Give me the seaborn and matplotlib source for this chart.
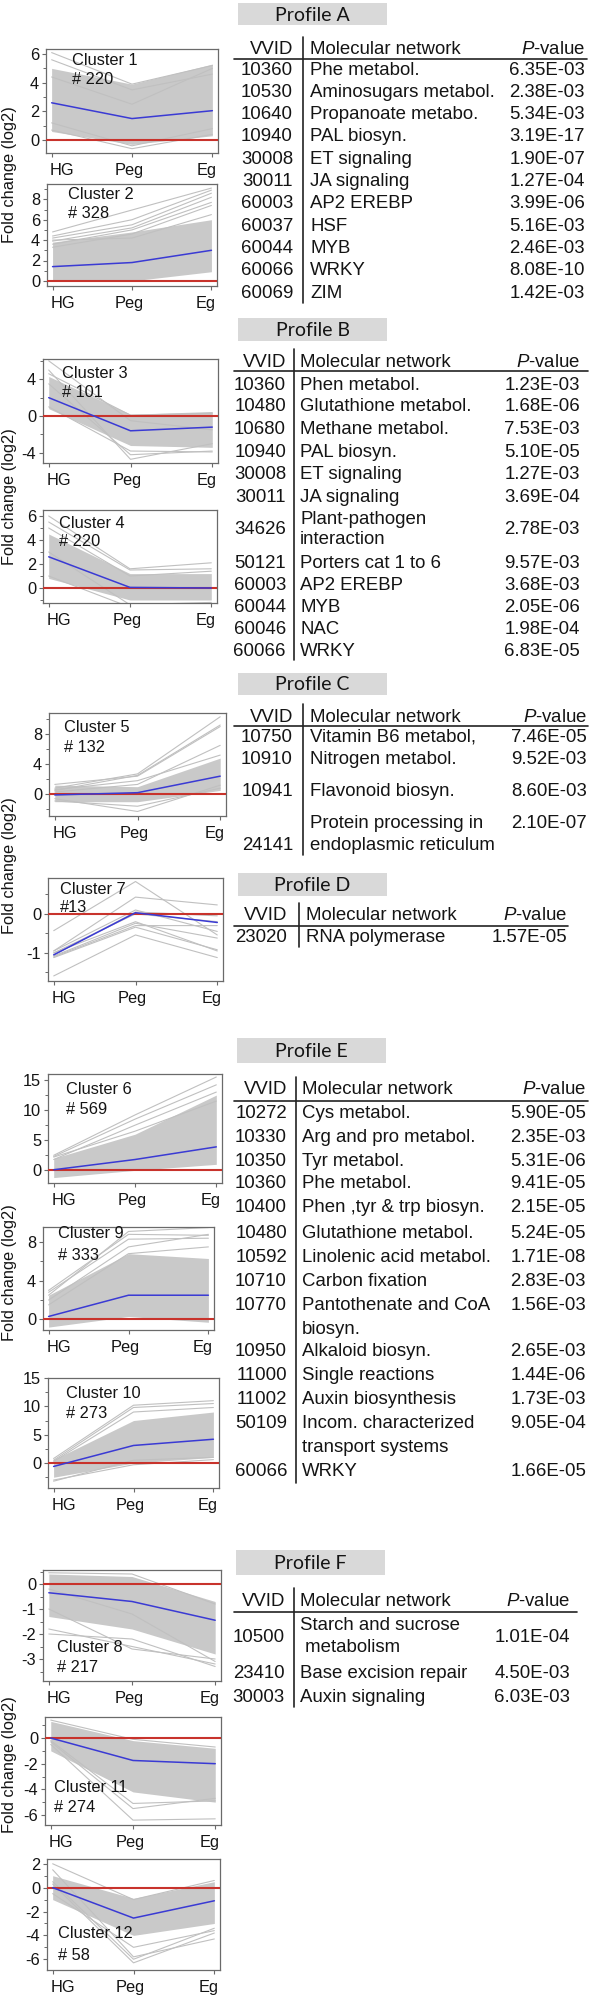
import numpy as np
import pandas as pd
import matplotlib
matplotlib.use("Agg")
import matplotlib.pyplot as plt
import seaborn as sns
from matplotlib.ticker import AutoMinorLocator
from matplotlib.transforms import ScaledTranslation
from matplotlib.patches import Rectangle

# ---------------------------------------------------------------- data
stages = ["HG", "Peg", "Eg"]

# cluster profiles: mean (blue), dense band low/high, individual visible gray lines
c1_mean = [2.6, 1.5, 2.05]
c1_low = [0.6, -0.3, 0.3]
c1_high = [5.0, 3.9, 5.3]
c1_lines = [[6.1, 3.9, 5.2], [5.6, 3.5, 4.6], [0.7, -0.6, 0.4], [1.2, -0.4, 0.8], [4.4, 2.5, 5.0]]

c2_mean = [1.4, 1.8, 3.0]
c2_low = [0.1, 0.0, 0.9]
c2_high = [3.8, 4.8, 6.0]
c2_lines = [[4.8, 6.95, 9.1], [4.4, 6.0, 8.9], [4.2, 5.5, 8.6], [3.9, 5.2, 8.2],
            [3.6, 5.0, 7.7], [3.3, 4.6, 7.4], [4.0, 4.2, 6.5]]

c3_mean = [2.0, -1.6, -1.2]
c3_low = [0.8, -3.2, -3.4]
c3_high = [4.3, 0.2, 0.5]
c3_lines = [[6.0, -0.5, -1.5], [5.0, -4.7, -3.0], [3.5, -4.2, -3.8], [1.0, -3.8, -3.9], [4.6, 0.1, 0.3]]

c4_mean = [2.6, 0.05, 0.0]
c4_low = [0.8, -1.0, -1.0]
c4_high = [4.5, 1.2, 1.2]
c4_lines = [[6.0, 1.6, 2.1], [5.5, 1.5, 1.6], [1.0, -1.6, -1.4], [3.0, -1.4, -1.2], [5.0, 1.0, 1.4]]

c5_mean = [-0.1, 0.2, 2.4]
c5_low = [-1.0, -1.0, 0.5]
c5_high = [1.2, 1.0, 4.8]
c5_lines = [[0.8, 2.7, 10.3], [0.5, 2.5, 9.2], [1.3, 2.4, 9.0], [0.3, 1.3, 6.5],
            [0.6, 1.8, 5.2], [-0.6, -2.3, 1.2], [-0.9, -1.6, 0.8]]

c7_mean = [-1.05, 0.03, -0.22]
c7_lines = [[-0.43, 0.83, -0.54], [-0.95, 0.43, 0.23], [-1.05, 0.05, -0.05], [-1.0, 0.0, -0.2],
            [-1.08, -0.24, -0.62], [-1.1, -0.3, -0.3], [-1.12, -0.34, -0.92],
            [-1.59, -0.54, -1.12], [-0.95, 0.1, -0.45], [-1.0, -0.2, -0.95]]

c6_mean = [0.1, 1.8, 3.9]
c6_low = [-1.2, 0.0, 1.0]
c6_high = [2.0, 6.0, 12.5]
c6_lines = [[2.5, 9.2, 15.5], [2.3, 8.5, 14.2], [1.8, 7.5, 13.0], [2.2, 6.5, 11.5]]

c9_mean = [0.3, 2.5, 2.5]
c9_low = [-0.8, 0.3, -0.3]
c9_high = [2.5, 6.8, 6.3]
c9_lines = [[2.5, 9.1, 9.5], [3.0, 8.8, 8.7], [2.8, 8.3, 8.4], [2.0, 7.5, 8.8], [1.5, 6.8, 7.5]]

c10_mean = [-0.6, 3.1, 4.2]
c10_low = [-2.5, 0.0, 1.0]
c10_high = [0.6, 7.5, 9.0]
c10_lines = [[0.8, 10.2, 11.0], [0.5, 9.8, 10.5], [0.3, 9.0, 9.8], [-3.2, 0.5, 1.0], [-3.0, -0.3, 0.6]]

c8_mean = [-0.35, -0.7, -1.45]
c8_low = [-1.3, -1.8, -2.8]
c8_high = [0.4, 0.3, -0.7]
c8_lines = [[-2.0, -2.2, -3.3], [-1.8, -2.5, -3.2], [0.45, 0.4, -0.8], [-1.0, -2.6, -3.0], [-0.2, -1.2, -3.1]]

c11_mean = [0.0, -1.75, -2.0]
c11_low = [-1.0, -4.2, -5.0]
c11_high = [1.3, -0.2, -0.8]
c11_lines = [[-0.5, -6.4, -6.3], [-0.3, -5.5, -4.7], [-0.2, -5.1, -4.9], [1.4, -0.1, -0.7]]

c12_mean = [0.0, -2.55, -1.1]
c12_low = [-1.0, -4.0, -3.0]
c12_high = [1.0, -0.9, 0.5]
c12_lines = [[2.0, -1.0, 0.6], [1.5, -5.8, -4.3], [0.3, -6.3, -3.8], [0.5, -6.0, -3.4], [-0.5, -5.0, -3.6]]

# enrichment tables
A_ids = ["10360", "10530", "10640", "10940", "30008", "30011", "60003", "60037", "60044", "60066", "60069"]
A_nets = ["Phe metabol.", "Aminosugars metabol.", "Propanoate metabo.", "PAL biosyn.", "ET signaling",
          "JA signaling", "AP2 EREBP", "HSF", "MYB", "WRKY", "ZIM"]
A_pvals = ["6.35E-03", "2.38E-03", "5.34E-03", "3.19E-17", "1.90E-07", "1.27E-04", "3.99E-06",
           "5.16E-03", "2.46E-03", "8.08E-10", "1.42E-03"]

B_ids = ["10360", "10480", "10680", "10940", "30008", "30011", "34626", "50121", "60003", "60044", "60046", "60066"]
B_nets = ["Phen metabol.", "Glutathione metabol.", "Methane metabol.", "PAL biosyn.", "ET signaling",
          "JA signaling", "Plant-pathogen\ninteraction", "Porters cat 1 to 6", "AP2 EREBP", "MYB", "NAC", "WRKY"]
B_pvals = ["1.23E-03", "1.68E-06", "7.53E-03", "5.10E-05", "1.27E-03", "3.69E-04", "2.78E-03",
           "9.57E-03", "3.68E-03", "2.05E-06", "1.98E-04", "6.83E-05"]

C_ids = ["10750", "10910", "10941", "24141"]
C_nets = ["Vitamin B6 metabol,", "Nitrogen metabol.", "Flavonoid biosyn.", "Protein processing in\nendoplasmic reticulum"]
C_pvals = ["7.46E-05", "9.52E-03", "8.60E-03", "2.10E-07"]

D_ids = ["23020"]
D_nets = ["RNA polymerase"]
D_pvals = ["1.57E-05"]

E_ids = ["10272", "10330", "10350", "10360", "10400", "10480", "10592", "10710", "10770",
         "10950", "11000", "11002", "50109", "60066"]
E_nets = ["Cys metabol.", "Arg and pro metabol.", "Tyr metabol.", "Phe metabol.", "Phen ,tyr & trp biosyn.",
          "Glutathione metabol.", "Linolenic acid metabol.", "Carbon fixation", "Pantothenate and CoA\nbiosyn.",
          "Alkaloid biosyn.", "Single reactions", "Auxin biosynthesis",
          "Incom. characterized\ntransport systems", "WRKY"]
E_pvals = ["5.90E-05", "2.35E-03", "5.31E-06", "9.41E-05", "2.15E-05", "5.24E-05", "1.71E-08",
           "2.83E-03", "1.56E-03", "2.65E-03", "1.44E-06", "1.73E-03", "9.05E-04", "1.66E-05"]

F_ids = ["10500", "23410", "30003"]
F_nets = ["Starch and sucrose\n metabolism", "Base excision repair", "Auxin signaling"]
F_pvals = ["1.01E-04", "4.50E-03", "6.03E-03"]

# ---------------------------------------------------------------- style
sns.set_style("white")
plt.rcParams["font.family"] = ["Liberation Sans", "DejaVu Sans"]
plt.rcParams["mathtext.fontset"] = "custom"
plt.rcParams["mathtext.rm"] = "Liberation Sans"
plt.rcParams["mathtext.it"] = "Liberation Sans:italic"

W, H = 602, 1996
GRAY_FILL = "#c9c9c9"
GRAY_LINE = "#c0c0c0"
RED = "#c8332c"
BLUE = "#3a3ad4"
SPINE = "#6a6a6a"
TXT = "#141414"
AX_FS = 11.8
TB_FS = 13.4

fig = plt.figure(figsize=(W / 100, H / 100), dpi=100)
fig.patch.set_facecolor("white")

# layout of each cluster panel: box px (x0, x1, y0, y1), ylim, yticks, label (left, y1, y2)
panels = [
    ("Cluster 1", "# 220", c1_mean, c1_low, c1_high, c1_lines, (46, 218, 49, 153), (-0.9, 6.35), [0, 2, 4, 6], (72, 60, 79)),
    ("Cluster 2", "# 328", c2_mean, c2_low, c2_high, c2_lines, (47, 217, 184, 286), (-0.5, 9.5), [0, 2, 4, 6, 8], (68, 194, 213)),
    ("Cluster 3", "# 101", c3_mean, c3_low, c3_high, c3_lines, (43, 218, 359, 463), (-5.1, 6.2), [-4, 0, 4], (62, 373, 392)),
    ("Cluster 4", "# 220", c4_mean, c4_low, c4_high, c4_lines, (43, 217, 510, 603), (-1.25, 6.5), [0, 2, 4, 6], (59, 524, 542)),
    ("Cluster 5", "# 132", c5_mean, c5_low, c5_high, c5_lines, (49, 226, 713, 816), (-2.9, 10.8), [0, 4, 8], (64, 728, 747)),
    ("Cluster 7", "#13", c7_mean, None, None, c7_lines, (48, 223, 878, 981), (-1.72, 0.92), [-1, 0], (60, 889, 908)),
    ("Cluster 6", "# 569", c6_mean, c6_low, c6_high, c6_lines, (48, 222, 1074, 1183), (-2.1, 16.0), [0, 5, 10, 15], (66, 1089, 1109)),
    ("Cluster 9", "# 333", c9_mean, c9_low, c9_high, c9_lines, (43, 214, 1227, 1330), (-1.1, 9.56), [0, 4, 8], (58, 1234, 1255)),
    ("Cluster 10", "# 273", c10_mean, c10_low, c10_high, c10_lines, (48, 219, 1378, 1488), (-4.4, 15.0), [0, 5, 10, 15], (66, 1393, 1413)),
    ("Cluster 8", "# 217", c8_mean, c8_low, c8_high, c8_lines, (43, 221, 1570, 1681), (-3.88, 0.56), [-3, -2, -1, 0], (57, 1647, 1667)),
    ("Cluster 11", "# 274", c11_mean, c11_low, c11_high, c11_lines, (45, 221, 1717, 1825), (-6.78, 1.64), [-6, -4, -2, 0], (54, 1788, 1808)),
    ("Cluster 12", "# 58", c12_mean, c12_low, c12_high, c12_lines, (47, 220, 1859, 1970), (-6.9, 2.4), [-6, -4, -2, 0, 2], (58, 1934, 1955)),
]

ov = fig.add_axes([0, 0, 1, 1], zorder=10)
ov.set_xlim(0, W)
ov.set_ylim(H, 0)
ov.axis("off")

label_shift = [10, -3, -6]

for name, count, mean, low, high, lines, box, ylim, yticks, lab in panels:
    x0, x1, y0, y1 = box
    ax = fig.add_axes([x0 / W, 1 - y1 / H, (x1 - x0) / W, (y1 - y0) / H], zorder=2)
    xs = np.arange(len(stages))
    if low is not None:
        ax.fill_between(xs, low, high, color=GRAY_FILL, lw=0, zorder=1)
    df_lines = pd.DataFrame([
        {"line": j, "x": k, "value": v}
        for j, ln in enumerate(lines) for k, v in enumerate(ln)
    ])
    sns.lineplot(data=df_lines, x="x", y="value", units="line", estimator=None,
                 color=GRAY_LINE, lw=0.8, ax=ax, legend=False, zorder=2)
    ax.axhline(0, color=RED, lw=1.5, zorder=3)
    df_mean = pd.DataFrame({"x": xs, "value": mean})
    sns.lineplot(data=df_mean, x="x", y="value", color=BLUE, lw=1.1, ax=ax, zorder=4)
    ax.set_xlim(-0.07, 2.07)
    ax.set_ylim(*ylim)
    ax.set_xticks(xs)
    ax.set_xticklabels(stages, fontsize=AX_FS, color=TXT)
    ax.set_yticks(yticks)
    ax.set_yticklabels([str(t) for t in yticks], fontsize=AX_FS, color=TXT)
    ax.yaxis.set_minor_locator(AutoMinorLocator(2))
    ax.set_xlabel("")
    ax.set_ylabel("")
    for s in ax.spines.values():
        s.set_color(SPINE)
        s.set_linewidth(0.9)
    ax.tick_params(axis="both", which="major", length=3, width=0.8, color=SPINE)
    ax.tick_params(axis="y", which="minor", length=2, width=0.7, color=SPINE, left=True)
    ax.tick_params(axis="x", pad=4, bottom=True)
    ax.tick_params(axis="y", pad=2, left=True)
    for lbl, dx in zip(ax.get_xticklabels(), label_shift):
        lbl.set_transform(lbl.get_transform() + ScaledTranslation(dx / 100, 0, fig.dpi_scale_trans))
    lx, ly1, ly2 = lab
    ov.text(lx, ly1, name, fontsize=AX_FS, color=TXT, ha="left", va="center")
    ov.text(lx, ly2, count, fontsize=AX_FS, color=TXT, ha="left", va="center")

# y axis labels
for yc in [175, 497, 866, 1273, 1765]:
    ov.text(10, yc, "Fold change (log2)", rotation=90, fontsize=AX_FS, color=TXT, ha="center", va="center")


def draw_table(title, box, hdr_y, hline, vline, cols, rows, ids, nets, pvals, dy=23):
    bx0, by0, bx1, by1 = box
    ov.add_patch(Rectangle((bx0, by0), bx1 - bx0, by1 - by0, color="#d9d9d9", lw=0))
    ov.text((bx0 + bx1) / 2, (by0 + by1) / 2 + 1, title, family=["Lato", "DejaVu Sans"],
            fontsize=14, color=TXT, ha="center", va="center")
    cid, cnet, cp = cols
    ov.text(cid, hdr_y, "VVID", fontsize=TB_FS, color=TXT, ha="right", va="center")
    ov.text(cnet, hdr_y, "Molecular network", fontsize=TB_FS, color=TXT, ha="left", va="center")
    ov.text(cp, hdr_y, r"$\mathit{P}$-value", fontsize=TB_FS, color=TXT, ha="right", va="center")
    hx0, hx1, hy = hline
    ov.plot([hx0, hx1], [hy, hy], color="#222222", lw=1.2)
    vx, vy0, vy1 = vline
    ov.plot([vx, vx], [vy0, vy1], color="#222222", lw=1.2)
    for r, i_, n_, p_ in zip(rows, ids, nets, pvals):
        if isinstance(r, tuple):
            y_id, y_net, y_p = r
        else:
            y_id = y_net = y_p = r
        ov.text(cid, y_id, i_, fontsize=TB_FS, color=TXT, ha="right", va="center")
        for k, part in enumerate(n_.split("\n")):
            ov.text(cnet, y_net + k * dy, part, fontsize=TB_FS, color=TXT, ha="left", va="center")
        ov.text(cp, y_p, p_, fontsize=TB_FS, color=TXT, ha="right", va="center")


rowsA = [70 + 22.3 * i for i in range(11)]
draw_table("Profile A", (238, 3, 387, 25), 49, (234, 587, 59), (303, 37, 303), (293, 310, 585),
           rowsA, A_ids, A_nets, A_pvals)
rowsB = [385, 406, 429, 452, 474, 497, (529, 519, 529), 563, 585, 607, 629, 652]
draw_table("Profile B", (238, 318, 387, 341), 362, (234, 588, 371), (294, 349, 660), (286, 300, 580),
           rowsB, B_ids, B_nets, B_pvals, dy=21)
rowsC = [737, 759, 792, (845, 823, 823)]
draw_table("Profile C", (238, 673, 387, 695), 717, (234, 588, 726), (303, 704, 855), (293, 310, 587),
           rowsC, C_ids, C_nets, C_pvals, dy=22)
rowsD = [938]
draw_table("Profile D", (238, 873, 387, 896), 916, (234, 568, 926), (299, 903, 947), (287, 306, 567),
           rowsD, D_ids, D_nets, D_pvals)
rowsE = [1113, 1137, 1161, 1184, 1208, 1233, 1257, 1281, (1305, 1305, 1305), 1352, 1376, 1400,
         (1424, 1424, 1424), 1471]
draw_table("Profile E", (237, 1038, 386, 1063), 1090, (234, 588, 1101), (296, 1077, 1483), (287, 302, 586),
           rowsE, E_ids, E_nets, E_pvals, dy=24)
rowsF = [(1637, 1625, 1637), 1673, 1697]
draw_table("Profile F", (236, 1550, 385, 1575), 1601, (234, 577, 1612), (294, 1588, 1707), (285, 300, 570),
           rowsF, F_ids, F_nets, F_pvals)

fig.savefig("out.png", dpi=100, facecolor="white")
